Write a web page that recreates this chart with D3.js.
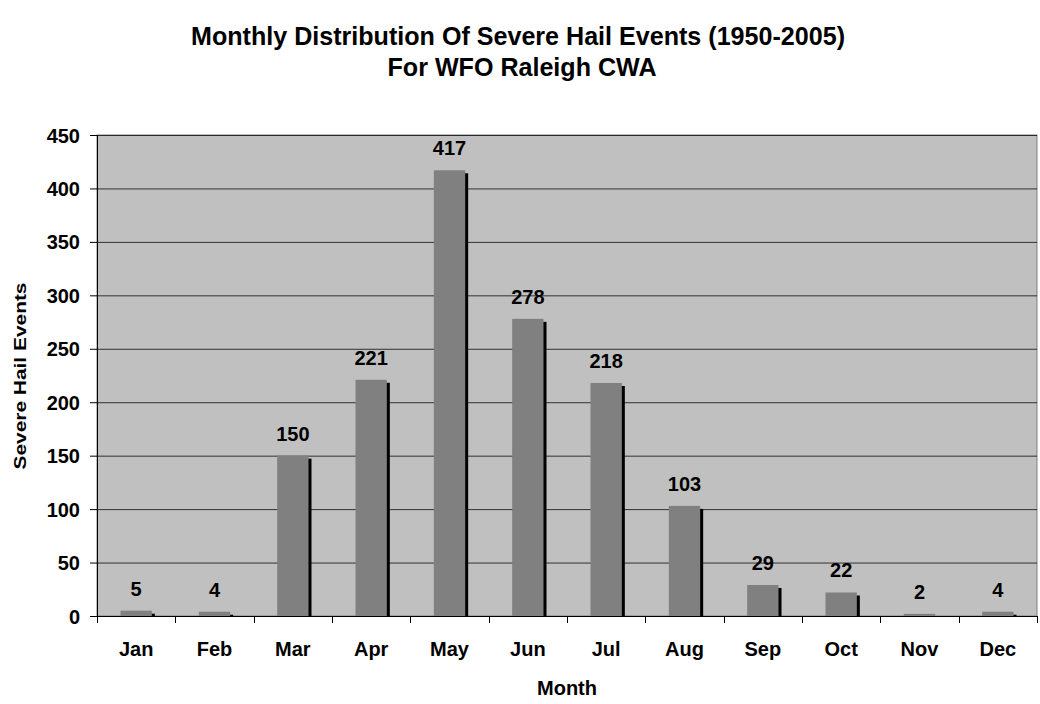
<!DOCTYPE html>
<html>
<head>
<meta charset="utf-8">
<script src="https://cdn.jsdelivr.net/npm/d3@7"></script>
<style>
	body { margin: 0; background: #fff; }
	text { font-family: "Liberation Sans", Arial, sans-serif; font-weight: bold; fill: #000; }
</style>
</head>
<body>
<div id="chart"></div>
<script>
// data
const months = ["Jan", "Feb", "Mar", "Apr", "May", "Jun", "Jul", "Aug", "Sep", "Oct", "Nov", "Dec"];
const events = [5, 4, 150, 221, 417, 278, 218, 103, 29, 22, 2, 4];
const yTicks = [0, 50, 100, 150, 200, 250, 300, 350, 400, 450];

const width = 1040;
const height = 704;
const margin = { top: 135, right: 3, bottom: 88, left: 97 };

const svg = d3
	.select("#chart")
	.append("svg")
	.attr("width", width)
	.attr("height", height);

const x = d3
	.scaleBand()
	.domain(months)
	.range([margin.left, width - margin.right]);

const y = d3
	.scaleLinear()
	.domain([0, 450])
	.range([height - margin.bottom, margin.top]);

// plot background
svg.append("rect")
	.attr("x", margin.left)
	.attr("y", margin.top)
	.attr("width", width - margin.right - margin.left)
	.attr("height", y(0) - margin.top)
	.attr("fill", "#c0c0c0")
	.attr("stroke", "#808080");

// gridlines
svg.append("g")
	.selectAll("line")
	.data(yTicks.filter((d) => d > 0))
	.enter()
	.append("line")
	.attr("x1", margin.left)
	.attr("x2", width - margin.right)
	.attr("y1", (d) => y(d) + 0.5)
	.attr("y2", (d) => y(d) + 0.5)
	.attr("stroke", "#000")
	.attr("stroke-opacity", 0.75);

const barW = x.bandwidth() * 0.4;

// shadows behind bars
svg.append("g")
	.selectAll("rect")
	.data(events)
	.enter()
	.append("rect")
	.attr("x", (d, i) => x(months[i]) + (x.bandwidth() - barW) / 2 + 3)
	.attr("y", (d) => Math.min(y(d) + 3, y(0)))
	.attr("width", barW)
	.attr("height", (d) => Math.max(0, y(0) - y(d) - 3))
	.attr("fill", "#000");

// bars
svg.append("g")
	.selectAll("rect")
	.data(events)
	.enter()
	.append("rect")
	.attr("x", (d, i) => x(months[i]) + (x.bandwidth() - barW) / 2)
	.attr("y", (d) => y(d))
	.attr("width", barW)
	.attr("height", (d) => y(0) - y(d))
	.attr("fill", "#808080");

// value labels
svg.append("g")
	.selectAll("text")
	.data(events)
	.enter()
	.append("text")
	.attr("x", (d, i) => x(months[i]) + x.bandwidth() / 2)
	.attr("y", (d) => y(d) - 15)
	.attr("text-anchor", "middle")
	.style("font-size", "20px")
	.text((d) => d);

// y axis
const yAxis = d3.axisLeft(y).tickValues(yTicks).tickSize(7).tickPadding(10);
svg.append("g")
	.attr("transform", `translate(${margin.left},0)`)
	.call(yAxis)
	.call((g) => g.select(".domain").attr("stroke", "#000"))
	.call((g) => g.selectAll("text").style("font-size", "20px").attr("dy", "0.35em"));

// x axis
const xAxis = d3.axisBottom(x).tickSize(0).tickPadding(26);
const xg = svg.append("g")
	.attr("transform", `translate(0,${y(0)})`)
	.call(xAxis)
	.call((g) => g.select(".domain").attr("stroke", "#000"))
	.call((g) => g.selectAll("text").style("font-size", "20px"));

// category separators
xg.append("g")
	.selectAll("line")
	.data(d3.range(months.length + 1))
	.enter()
	.append("line")
	.attr("x1", (i) => Math.round(margin.left + i * x.step()) + 0.5)
	.attr("x2", (i) => Math.round(margin.left + i * x.step()) + 0.5)
	.attr("y1", 0)
	.attr("y2", 7)
	.attr("stroke", "#000");

// titles
svg.append("text")
	.attr("x", 518)
	.attr("y", 45)
	.attr("text-anchor", "middle")
	.attr("textLength", 654)
	.attr("lengthAdjust", "spacingAndGlyphs")
	.style("font-size", "26px")
	.text("Monthly Distribution Of Severe Hail Events (1950-2005)");

svg.append("text")
	.attr("x", 522)
	.attr("y", 76)
	.attr("text-anchor", "middle")
	.attr("textLength", 269)
	.attr("lengthAdjust", "spacingAndGlyphs")
	.style("font-size", "26px")
	.text("For WFO Raleigh CWA");

svg.append("text")
	.attr("x", 567)
	.attr("y", 695)
	.attr("text-anchor", "middle")
	.style("font-size", "20px")
	.text("Month");

svg.append("text")
	.attr("transform", "translate(26,376) rotate(-90)")
	.attr("text-anchor", "middle")
	.attr("textLength", 187)
	.attr("lengthAdjust", "spacingAndGlyphs")
	.style("font-size", "17px")
	.text("Severe Hail Events");
</script>
</body>
</html>
